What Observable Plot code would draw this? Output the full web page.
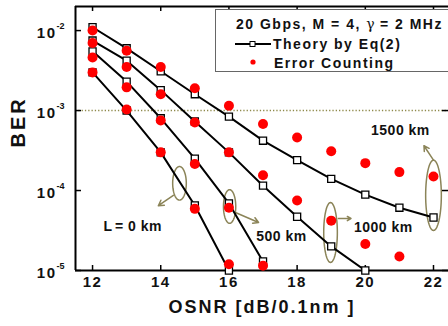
<!DOCTYPE html>
<html><head><meta charset="utf-8">
<script src="https://cdn.jsdelivr.net/npm/d3@7"></script>
<script src="https://cdn.jsdelivr.net/npm/@observablehq/plot@0.6"></script>
<style>
body{margin:0;background:#fff;}
#wrap{position:relative;width:448px;height:326px;overflow:hidden;font-family:"Liberation Sans",Arial,sans-serif;}
#chart svg{display:block;}
#legend{position:absolute;left:215px;top:9px;width:250px;height:63px;border:1px solid #666;background:#fff;box-sizing:border-box;}
#legend .row{position:absolute;left:0;font-weight:bold;font-size:14px;letter-spacing:1.5px;color:#111;white-space:nowrap;line-height:16px;}
#legend .g{font-family:"DejaVu Serif",serif;font-weight:normal;letter-spacing:0;}
</style></head><body>
<div id="wrap"><div id="chart"></div>
<div id="legend">
  <div class="row" style="left:20px;top:6px;">20 Gbps, M = 4, <span class="g">γ</span> = 2 MHz</div>
  <svg style="position:absolute;left:19px;top:28px;" width="38" height="12"><line x1="0" y1="6" x2="36" y2="6" stroke="#000" stroke-width="2"/><rect x="15" y="3.5" width="5" height="5" fill="#fff" stroke="#000" stroke-width="1"/></svg>
  <div class="row" style="left:57px;top:26px;">Theory by Eq(2)</div>
  <svg style="position:absolute;left:32px;top:47px;" width="10" height="10"><circle cx="5" cy="5" r="2.6" fill="#f00"/></svg>
  <div class="row" style="left:58px;top:45px;">Error Counting</div>
</div></div>
<script>
const osnr = [12,13,14,15,16,17,18,19,20,21,22];
const distances = ["0 km","500 km","1000 km","1500 km"];
// Theory by Eq(2) (BER), starting at OSNR 12
const theory0    = [3.0e-3, 1.0e-3, 3.0e-4, 6.5e-5, 1.0e-5];
const theory500  = [5.5e-3, 2.3e-3, 8.0e-4, 2.5e-4, 6.9e-5, 1.3e-5];
const theory1000 = [7.5e-3, 4.2e-3, 1.8e-3, 7.3e-4, 3.0e-4, 1.15e-4, 4.7e-5, 2.0e-5, 1.0e-5];
const theory1500 = [1.1e-2, 6.0e-3, 3.1e-3, 1.6e-3, 8.4e-4, 4.2e-4, 2.4e-4, 1.4e-4, 8.9e-5, 6.1e-5, 4.6e-5];
// Error counting (BER)
const meas0    = [3.0e-3, 1.03e-3, 3.0e-4, 5.9e-5, 1.2e-5];
const meas500  = [4.6e-3, 1.95e-3, 7.5e-4, 2.15e-4, 6.1e-5, 1.15e-5];
const meas1000 = [7.0e-3, 3.5e-3, 1.6e-3, 7.1e-4, 3.0e-4, 1.55e-4, 7.5e-5, 4.2e-5, 2.15e-5, 1.5e-5];
const meas1500 = [1.0e-2, 5.6e-3, 3.5e-3, 1.9e-3, 1.15e-3, 6.8e-4, 4.6e-4, 3.1e-4, 2.2e-4, 1.7e-4, 1.5e-4];
const xTicks = [12,14,16,18,20,22];
const yTicks = [1e-2, 1e-3, 1e-4, 1e-5];
const yTickExp = ["-2","-3","-4","-5"];
const threshold = 1e-3;
// annotations (data coordinates: OSNR, log10 BER)
const ellipses = [
  {name:"0 km",    cx:14.55, cy:-3.91, rx:0.2,  ry:0.21},
  {name:"500 km",  cx:16.02, cy:-4.20, rx:0.18, ry:0.21},
  {name:"1000 km", cx:18.98, cy:-4.525,rx:0.2,  ry:0.375},
  {name:"1500 km", cx:22.0,  cy:-4.06, rx:0.23, ry:0.44}
];
const arrows = [
  {x1:14.37, l1:-4.06, x2:13.93, l2:-4.19},
  {x1:16.19, l1:-4.275,x2:16.87, l2:-4.40},
  {x1:19.21, l1:-4.35, x2:19.58, l2:-4.35},
  {x1:22.0,  l1:-3.62, x2:21.72, l2:-3.44}
];
const labels = [
  {text:"L", x:12.32, l:-4.45, italic:true, anchor:"start"},
  {text:"= 0 km", x:12.66, l:-4.45, anchor:"start"},
  {text:"500 km", x:17.54, l:-4.575, anchor:"middle"},
  {text:"1000 km", x:20.53, l:-4.46, anchor:"middle"},
  {text:"1500 km", x:21.03, l:-3.25, anchor:"middle"}
];

const theoryAll = [theory0, theory500, theory1000, theory1500];
const measAll = [meas0, meas500, meas1000, meas1500];
const theoryRows = theoryAll.flatMap((s,i)=>s.map((v,j)=>({d:distances[i], x:osnr[j], y:v})));
const measRows = measAll.flatMap((s,i)=>s.map((v,j)=>({d:distances[i], x:osnr[j], y:v})));
const ellRows = ellipses.flatMap(e=>d3.range(0,65).map(k=>{const t=k/64*2*Math.PI;return {name:e.name,x:e.cx+e.rx*Math.cos(t),y:Math.pow(10,e.cy+e.ry*Math.sin(t))};}));

const xMin=11.5, xMax=22.44, yMin=1e-5, yMax=0.02;
const olive="#8b8458";
const font = "Liberation Sans, Arial, sans-serif";
const labelMark = (anchor) => Plot.text(labels.filter(d=>d.anchor===anchor), {x:"x", y:d=>Math.pow(10,d.l), text:"text", fontSize:14, fontWeight:"bold", fill:"#111", textAnchor:anchor, fontStyle:d=>d.italic?"italic":"normal"});
const plot = Plot.plot({
  width:448, height:326,
  marginLeft:75, marginRight:0, marginTop:6, marginBottom:56,
  style:{fontFamily:font, background:"#fff", overflow:"visible"},
  x:{domain:[xMin,xMax], axis:null},
  y:{type:"log", domain:[yMin,yMax], axis:null},
  marks:[
    Plot.ruleY([threshold], {stroke:"#8f8a4c", strokeWidth:1.5, strokeDasharray:"1.3,2"}),
    Plot.ruleX([xMin], {stroke:"#000", strokeWidth:2}),
    Plot.ruleY([yMin, yMax], {stroke:"#000", strokeWidth:2}),
    Plot.ruleX(xTicks, {x:d=>d, insetTop:259, stroke:"#000", strokeWidth:1.5}),
    Plot.ruleX(xTicks, {x:d=>d, insetBottom:259, stroke:"#000", strokeWidth:1.5}),
    Plot.ruleY(yTicks, {y:d=>d, insetRight:367, stroke:"#000", strokeWidth:1.5}),
    Plot.ruleY(yTicks, {y:d=>d, insetLeft:367, stroke:"#000", strokeWidth:1.5}),
    Plot.line(ellRows, {x:"x", y:"y", z:"name", stroke:olive, strokeWidth:1.5}),
    Plot.arrow(arrows, {x1:"x1", y1:d=>Math.pow(10,d.l1), x2:"x2", y2:d=>Math.pow(10,d.l2), stroke:olive, strokeWidth:1.5, headLength:6}),
    Plot.line(theoryRows, {x:"x", y:"y", z:"d", stroke:"#000", strokeWidth:2, clip:true}),
    Plot.dot(theoryRows, {x:"x", y:"y", symbol:"square", r:4, fill:"#fff", stroke:"#000", strokeWidth:1.3}),
    Plot.dot(measRows, {x:"x", y:"y", r:5, fill:"#ff0000"}),
    labelMark("start"),
    labelMark("middle"),
    Plot.text(xTicks, {x:d=>d, frameAnchor:"bottom", dy:16, text:d=>String(d), fontSize:15, fontWeight:"bold", fill:"#111"}),
    Plot.text(yTicks, {y:d=>d, frameAnchor:"left", dx:-19, dy:3, text:()=>"10", textAnchor:"end", fontSize:15, fontWeight:"bold", fill:"#111"}),
    Plot.text(yTicks, {y:d=>d, frameAnchor:"left", dx:-19, dy:-4, text:(d,i)=>yTickExp[i], textAnchor:"start", fontSize:9, fontWeight:"bold", fill:"#111"}),
    Plot.text(["OSNR [dB/0.1nm ]"], {frameAnchor:"bottom", dy:42, fontSize:18, fontWeight:"bold", fill:"#111"}),
    Plot.text(["BER"], {frameAnchor:"left", dx:-57, dy:9, rotate:-90, fontSize:20, fontWeight:"bold", fill:"#111"})
  ]
});
document.getElementById("chart").appendChild(plot);
// letter spacing to mimic the reference's wide bold lettering
const spacingBySize = {"14px":"0.5px", "15px":"1.5px", "18px":"2px", "20px":"3px"};
plot.querySelectorAll("text").forEach(t => {
  const fs = getComputedStyle(t).fontSize;
  if (spacingBySize[fs]) t.style.letterSpacing = spacingBySize[fs];
});
</script>
</body></html>
